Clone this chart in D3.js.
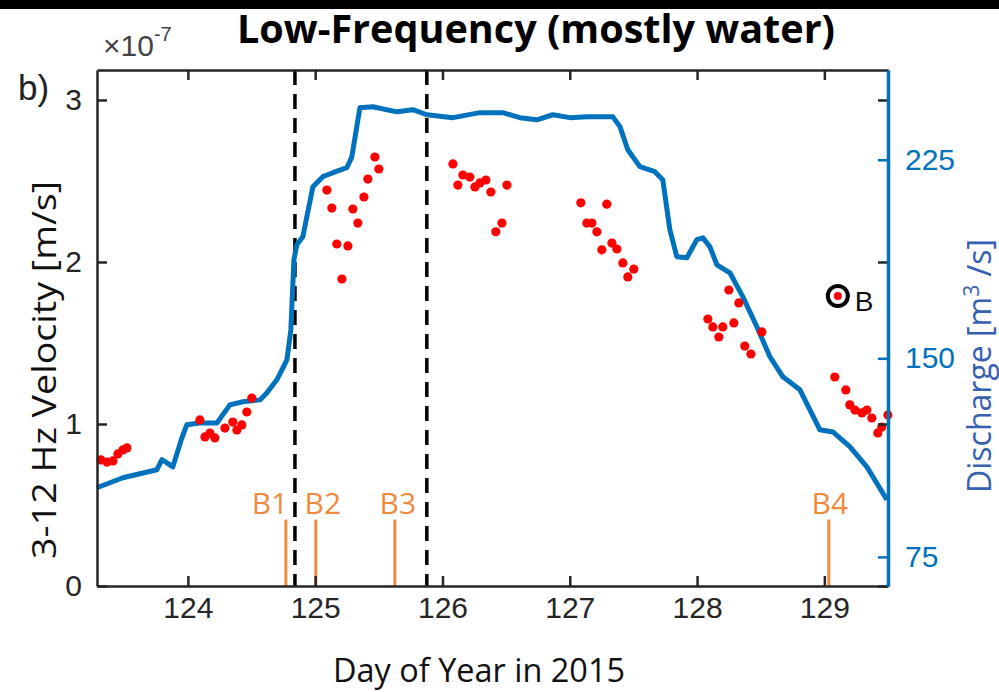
<!DOCTYPE html>
<html lang="en">
<head>
<meta charset="UTF-8">
<title>Low-Frequency (mostly water)</title>
<style>
  body { margin: 0; background: #fff; overflow: hidden; }
  svg { display: block; background: #fff; }
  .axis text { font-family: "Liberation Sans", Arial, sans-serif; font-size: 30px; }
  .axis-title { font-family: "Open Sans", sans-serif; font-size: 32px; }
  .burst-label { font-family: "Open Sans", sans-serif; font-size: 30px; fill: #ef8a3e; }
</style>
</head>
<body>
<svg width="999" height="692"></svg>
<script src="https://d3js.org/d3.v7.min.js"></script>
<script>
// ---- data ----
const dischargeDay = [123.285, 123.489, 123.756, 123.796, 123.835, 123.882, 123.953, 123.992, 124.094, 124.228,
  124.330, 124.432, 124.566, 124.621, 124.699, 124.778, 124.809, 124.833, 124.856, 124.903,
  124.982, 125.060, 125.139, 125.249, 125.288, 125.351, 125.453, 125.642, 125.767, 125.877,
  126.082, 126.294, 126.474, 126.608, 126.742, 126.867, 127.001, 127.134, 127.339, 127.394,
  127.456, 127.551, 127.668, 127.731, 127.786, 127.841, 127.920, 127.998, 128.046, 128.101,
  128.156, 128.258, 128.360, 128.470, 128.572, 128.674, 128.808, 128.965, 129.067, 129.200,
  129.334, 129.491];
const dischargeVal = [101.1, 104.9, 107.9, 111.7, 110.5, 109.0, 120.0, 124.9, 125.6, 125.6,
  132.4, 133.6, 134.3, 137.0, 141.9, 149.4, 160.8, 187.2, 192.9, 195.9,
  214.8, 218.6, 220.1, 222.0, 226.1, 244.6, 245.0, 243.1, 243.9, 242.0,
  240.9, 242.8, 242.8, 240.9, 240.1, 242.0, 240.9, 241.2, 241.2, 237.5,
  228.8, 222.4, 220.5, 217.4, 198.6, 188.4, 188.0, 194.8, 195.5, 192.1,
  185.3, 182.3, 173.2, 161.9, 150.6, 143.0, 138.1, 123.0, 122.2, 116.6,
  109.0, 96.6];

const velDay = [123.317, 123.364, 123.411, 123.450, 123.489, 123.521,
  124.094, 124.134, 124.173, 124.212, 124.291, 124.353, 124.385, 124.424, 124.463, 124.502,
  125.092, 125.131, 125.170, 125.210, 125.257, 125.296, 125.335, 125.383, 125.414, 125.469, 125.500,
  126.082, 126.121, 126.160, 126.215, 126.255, 126.294, 126.341, 126.380, 126.419, 126.467, 126.506,
  127.087, 127.134, 127.174, 127.213, 127.252, 127.291, 127.331, 127.370, 127.417, 127.456, 127.503,
  128.085, 128.124, 128.171, 128.202, 128.250, 128.289, 128.328, 128.375, 128.423, 128.509,
  129.082, 129.169, 129.200, 129.240, 129.295, 129.334, 129.373, 129.420, 129.451, 129.499];
const velVal = [0.778, 0.765, 0.772, 0.815, 0.840, 0.852,
  1.025, 0.920, 0.944, 0.914, 0.975, 1.012, 0.963, 0.994, 1.074, 1.160,
  2.444, 2.333, 2.111, 1.895, 2.099, 2.327, 2.240, 2.401, 2.512, 2.648, 2.574,
  2.605, 2.475, 2.537, 2.524, 2.463, 2.488, 2.506, 2.432, 2.186, 2.240, 2.475,
  2.365, 2.240, 2.240, 2.186, 2.075, 2.357, 2.117, 2.080, 1.994, 1.908, 1.956,
  1.648, 1.599, 1.537, 1.599, 1.827, 1.624, 1.747, 1.481, 1.432, 1.568,
  1.290, 1.210, 1.118, 1.086, 1.068, 1.086, 1.037, 0.945, 0.981, 1.056];

const pointB = { day: 129.106, vel: 1.79, label: "B" };
const dashedDays = [124.841, 125.877];
const burstLabels = ["B1", "B2", "B3", "B4"];
const burstDays = [124.77, 125.005, 125.626, 129.035];
const burstHeight = 0.41;

const xTicks = [124, 125, 126, 127, 128, 129];
const leftTicks = [0, 1, 2, 3];
const rightTicks = [75, 150, 225];

// ---- layout ----
const svg = d3.select("svg");
const plot = { left: 97, right: 888, top: 70, bottom: 586 };
const blue = "#0072bd";
const orange = "#ef8a3e";
const ink = "#262626";

const x = d3.scaleLinear().domain([123.286, 129.5]).range([plot.left, plot.right]);
const yL = d3.scaleLinear().domain([0, 3.185]).range([plot.bottom, plot.top]);
const yR = d3.scaleLinear().domain([64.0, 258.9]).range([plot.bottom, plot.top]);

// title, then the black strip across the top
svg.append("text")
  .attr("x", 536).attr("y", 43)
  .attr("text-anchor", "middle")
  .attr("textLength", 598)
  .attr("lengthAdjust", "spacingAndGlyphs")
  .style("font-family", "'Open Sans', sans-serif")
  .style("font-weight", 700)
  .style("font-size", "40px")
  .text("Low-Frequency (mostly water)");
svg.append("rect").attr("x", 0).attr("y", 0).attr("width", 999).attr("height", 9).attr("fill", "#000");

// dashed vertical lines
svg.selectAll("line.dash")
  .data(dashedDays)
  .join("line")
  .attr("class", "dash")
  .attr("x1", d => x(d)).attr("x2", d => x(d))
  .attr("y1", plot.top).attr("y2", plot.bottom)
  .attr("stroke", "#000")
  .attr("stroke-width", 3.5)
  .attr("stroke-dasharray", "15,9");

// burst markers
svg.selectAll("line.burst")
  .data(burstDays)
  .join("line")
  .attr("class", "burst")
  .attr("x1", d => x(d)).attr("x2", d => x(d))
  .attr("y1", yL(burstHeight)).attr("y2", yL(0))
  .attr("stroke", orange)
  .attr("stroke-width", 3);

const labelShift = [-16, 7, 3, 1];
svg.selectAll("text.burst-label")
  .data(burstLabels)
  .join("text")
  .attr("class", "burst-label")
  .attr("x", (d, i) => x(burstDays[i]) + labelShift[i])
  .attr("y", 514)
  .attr("text-anchor", "middle")
  .text(d => d);

// discharge line
const line = d3.line()
  .x((d, i) => x(dischargeDay[i]))
  .y(d => yR(d));
svg.append("path")
  .datum(dischargeVal)
  .attr("fill", "none")
  .attr("stroke", blue)
  .attr("stroke-width", 5)
  .attr("stroke-linejoin", "round")
  .attr("d", line);

// velocity dots
svg.selectAll("circle.vel")
  .data(velVal)
  .join("circle")
  .attr("class", "vel")
  .attr("cx", (d, i) => x(velDay[i]))
  .attr("cy", d => yL(d))
  .attr("r", 4.6)
  .attr("fill", "#ff0000");

// point B
svg.append("circle")
  .attr("cx", x(pointB.day)).attr("cy", yL(pointB.vel))
  .attr("r", 10).attr("fill", "none")
  .attr("stroke", "#000").attr("stroke-width", 4);
svg.append("circle")
  .attr("cx", x(pointB.day)).attr("cy", yL(pointB.vel))
  .attr("r", 4).attr("fill", "#ff0000");
svg.append("text")
  .attr("x", x(pointB.day) + 17).attr("y", yL(pointB.vel) + 15)
  .style("font-family", "'Liberation Sans', Arial, sans-serif")
  .style("font-size", "28px")
  .attr("fill", "#111")
  .text(pointB.label);

// ---- axes ----
function styleAxis(g, color) {
  g.selectAll("path.domain").attr("stroke", color).attr("stroke-width", 2.5);
  g.selectAll(".tick line").attr("stroke", color).attr("stroke-width", 2.5);
  g.selectAll(".tick text").attr("fill", color);
}

const gx = svg.append("g").attr("class", "axis")
  .attr("transform", `translate(0,${plot.bottom})`)
  .call(d3.axisBottom(x).tickValues(xTicks).tickSize(-10).tickSizeOuter(0).tickPadding(11).tickFormat(d3.format("d")));
styleAxis(gx, ink);

const gTop = svg.append("g").attr("class", "axis")
  .attr("transform", `translate(0,${plot.top})`)
  .call(d3.axisTop(x).tickValues(xTicks).tickSize(-10).tickSizeOuter(0).tickFormat(""));
styleAxis(gTop, ink);

const gL = svg.append("g").attr("class", "axis")
  .attr("transform", `translate(${plot.left},0)`)
  .call(d3.axisLeft(yL).tickValues(leftTicks).tickSize(-10).tickSizeOuter(0).tickPadding(15).tickFormat(d3.format("d")));
styleAxis(gL, ink);

const gLm = svg.append("g").attr("class", "axis")
  .attr("transform", `translate(${plot.right},0)`)
  .call(d3.axisRight(yL).tickValues(leftTicks).tickSize(-10).tickSizeOuter(0).tickFormat(""));
styleAxis(gLm, ink);

const gR = svg.append("g").attr("class", "axis")
  .attr("transform", `translate(${plot.right},0)`)
  .call(d3.axisRight(yR).tickValues(rightTicks).tickSize(-10).tickSizeOuter(0).tickPadding(17).tickFormat(d3.format("d")));
styleAxis(gR, blue);
gR.select("path.domain").attr("stroke-width", 3.5);

// exponent and panel letter
const expo = svg.append("text")
  .attr("x", 103).attr("y", 56)
  .style("font-family", "'Liberation Sans', Arial, sans-serif")
  .style("font-size", "30px")
  .attr("fill", "#444");
expo.append("tspan").text("\u00d710");
expo.append("tspan").attr("dy", -15).style("font-size", "20px").text("-7");

svg.append("text")
  .attr("x", 18).attr("y", 100)
  .style("font-family", "'Liberation Sans', Arial, sans-serif")
  .style("font-size", "35px")
  .attr("fill", "#222")
  .text("b)");

// axis titles
svg.append("text")
  .attr("class", "axis-title")
  .attr("transform", "translate(56,370) rotate(-90)")
  .attr("text-anchor", "middle")
  .attr("textLength", 378)
  .attr("lengthAdjust", "spacingAndGlyphs")
  .attr("fill", "#111")
  .text("3-12 Hz Velocity [m/s]");

const rt = svg.append("text")
  .attr("class", "axis-title")
  .attr("transform", "translate(991,366) rotate(-90)")
  .attr("text-anchor", "middle")
  .attr("fill", "#3660b0");
rt.append("tspan").text("Discharge [m");
rt.append("tspan").attr("dy", -12).style("font-size", "21px").text("3");
rt.append("tspan").attr("dy", 12).text(" /s]");

svg.append("text")
  .attr("class", "axis-title")
  .attr("x", 479).attr("y", 682)
  .attr("text-anchor", "middle")
  .attr("textLength", 292)
  .attr("lengthAdjust", "spacingAndGlyphs")
  .attr("fill", "#111")
  .text("Day of Year in 2015");
</script>
</body>
</html>
